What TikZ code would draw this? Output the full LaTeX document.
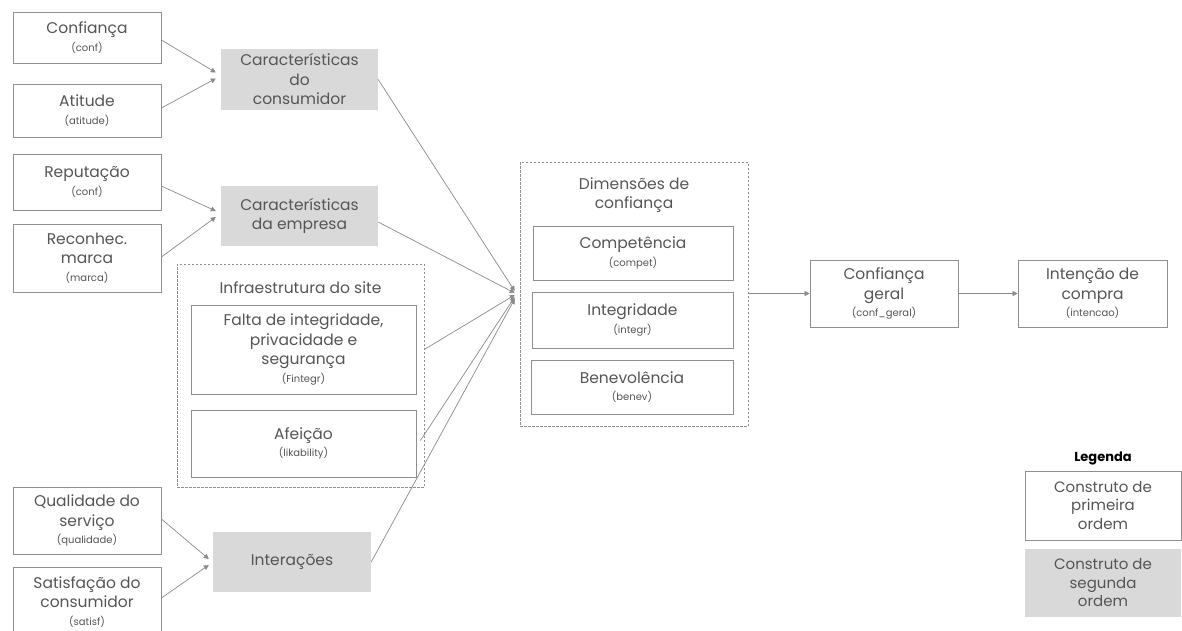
\documentclass[tikz,border=0pt]{standalone}
\usepackage{fontspec}
\setmainfont{Poppins}
\usetikzlibrary{arrows.meta,calc}
\definecolor{txt}{HTML}{555555}
\definecolor{bord}{HTML}{8F8F8F}
\definecolor{gfill}{HTML}{D9D9D9}
\definecolor{lin}{HTML}{8A8A8A}
\tikzset{
  fbox/.style={draw=bord,line width=0.8pt,fill=white,text=txt,align=center,inner sep=1pt,font=\fontsize{15.5}{19.5}\selectfont},
  gbox/.style={fill=gfill,draw=none,text=txt,align=center,inner sep=1pt,font=\fontsize{15.5}{19.5}\selectfont},
  dbox/.style={draw=bord,dashed,dash pattern=on 2.5pt off 1.5pt,line width=0.6pt},
  conn/.style={draw=lin,line width=0.7pt,-{Triangle[length=5pt,width=5pt]}},
  ttl/.style={text=txt,align=center,font=\fontsize{15.5}{19.5}\selectfont}
}
\newcommand{\sub}[1]{\\[-2pt]{\fontsize{10}{11}\selectfont #1}}
\begin{document}
\begin{tikzpicture}[x=1pt,y=-1pt]
\useasboundingbox (0,0) rectangle (1182,630);
% left column
\node[fbox,minimum width=148,minimum height=51] (conf) at (87,37.5) {Confiança\sub{(conf)}};
\node[fbox,minimum width=148,minimum height=53] (atit) at (87,110.5) {Atitude\sub{(atitude)}};
\node[fbox,minimum width=148,minimum height=56] (rep) at (87,182) {Reputação\sub{(conf)}};
\node[fbox,minimum width=148,minimum height=68] (marca) at (87,258) {Reconhec.\\marca\sub{(marca)}};
\node[fbox,minimum width=148,minimum height=67] (qual) at (87,520.5) {Qualidade do\\serviço\sub{(qualidade)}};
\node[fbox,minimum width=148,minimum height=69] (satis) at (87,601.5) {Satisfação do\\consumidor\sub{(satisf)}};
% second order
\node[gbox,minimum width=157,minimum height=61] (cons) at (299.5,79.5) {Características\\do\\consumidor};
\node[gbox,minimum width=157,minimum height=60] (emp) at (299.5,216) {Características\\da empresa};
\node[gbox,minimum width=158,minimum height=60] (inter) at (292,562) {Interações};
% infra
\node[dbox,minimum width=247,minimum height=223] (infra) at (300.5,375.5) {};
\node[ttl] (infrat) at (300.5,288) {Infraestrutura do site};
\node[fbox,minimum width=225,minimum height=89] (falta) at (303.5,349.5) {Falta de integridade,\\privacidade e\\segurança\sub{(Fintegr)}};
\node[fbox,minimum width=225,minimum height=67] (afe) at (303.5,443.5) {Afeição\sub{(likability)}};
% dimensoes
\node[dbox,minimum width=228,minimum height=264] (dim) at (634,294) {};
\node[ttl] (dimt) at (634,195) {Dimensões de\\confiança};
\node[fbox,minimum width=200,minimum height=54] (comp) at (633,253) {Competência\sub{(compet)}};
\node[fbox,minimum width=201,minimum height=56] (integ) at (632.5,320) {Integridade\sub{(integr)}};
\node[fbox,minimum width=202,minimum height=54] (bene) at (632,387) {Benevolência\sub{(benev)}};
% right
\node[fbox,minimum width=148,minimum height=67] (geral) at (884,293.5) {Confiança\\geral\sub{(conf\_geral)}};
\node[fbox,minimum width=149,minimum height=67] (intc) at (1092.5,293.5) {Intenção de\\compra\sub{(intencao)}};
% legend
\node[text=black,font=\bfseries\fontsize{13}{14}\selectfont] (leg) at (1103,458) {Legenda};
\node[fbox,font=\fontsize{15}{18.5}\selectfont,minimum width=156,minimum height=69] (leg1) at (1103,505.5) {Construto de\\primeira\\ordem};
\node[gbox,font=\fontsize{15}{18.5}\selectfont,minimum width=156,minimum height=68] (leg2) at (1103,583) {Construto de\\segunda\\ordem};
% connectors
\coordinate (c1) at ($(cons.west)+(-5,-7)$);
\coordinate (c2) at ($(cons.west)+(-5,-1)$);
\draw[conn] (conf.east |- 0,40) -- (c1);
\draw[conn] (atit.east |- 0,108) -- (c2);
\coordinate (e1) at ($(emp.west)+(-5,-5)$);
\coordinate (e2) at ($(emp.west)+(-5,1)$);
\draw[conn] (rep.east |- 0,186) -- (e1);
\draw[conn] (marca.east |- 0,257) -- (e2);
\coordinate (i1) at ($(inter.west)+(-4,-3)$);
\coordinate (i2) at ($(inter.west)+(-4,3)$);
\draw[conn] (qual.east |- 0,519) -- (i1);
\draw[conn] (satis.east |- 0,598) -- (i2);
\coordinate (cv) at ($(dim.west)+(-5,1)$);
\draw[conn] (cons.east) -- ($(cv)+(0,-4)$);
\draw[conn] (emp.east |- 0,222) -- ($(cv)+(0,-2)$);
\draw[conn] (falta.east -| infra.east) -- ($(cv)+(0,0)$);
\draw[conn] ($(afe.east)+(4,-3)$) -- ($(cv)+(0,2)$);
\draw[conn] (inter.east) -- ($(cv)+(0,4)$);
\draw[conn] (dim.east |- geral.west) -- (geral.west);
\draw[conn] (geral.east) -- (intc.west);
\end{tikzpicture}
\end{document}
